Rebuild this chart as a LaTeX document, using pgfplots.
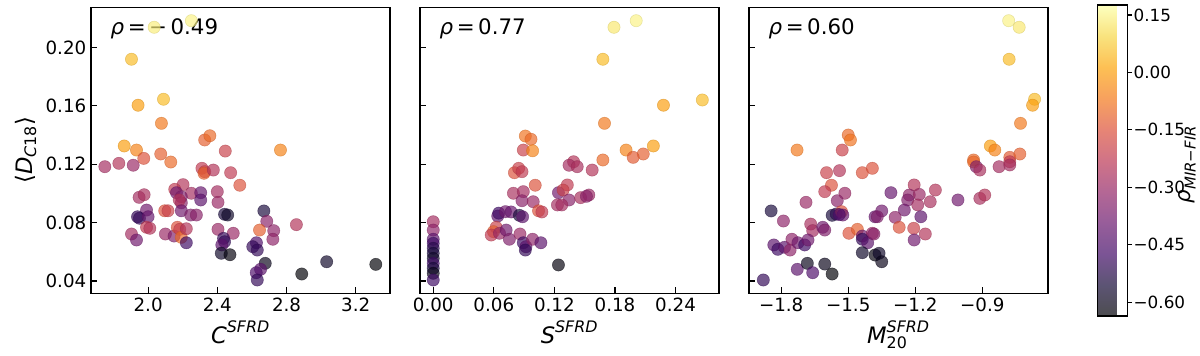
\documentclass[border=0pt]{standalone}
\usepackage{amsmath}
\usepackage{fontspec}
\setmainfont{DejaVu Sans}
\usepackage{pgfplots}
\pgfplotsset{compat=1.18}

\pgfplotsset{
  colormap={inferno}{rgb255=(0,0,4) rgb255=(22,11,57) rgb255=(66,10,104) rgb255=(106,23,110)
    rgb255=(147,38,103) rgb255=(188,55,84) rgb255=(221,81,58) rgb255=(243,120,25)
    rgb255=(252,165,10) rgb255=(246,215,70) rgb255=(252,255,164)},
  colormap={infernofade}{rgb255=(77,77,80) rgb255=(92,84,116) rgb255=(123,84,149) rgb255=(151,93,154)
    rgb255=(180,103,149) rgb255=(208,115,135) rgb255=(231,133,117) rgb255=(247,161,94)
    rgb255=(253,192,84) rgb255=(249,227,126) rgb255=(253,255,191)},
  panel/.style={
    scale only axis, width=224.25pt, height=214.5pt, anchor=south west,
    colormap name=inferno, point meta min=-0.636, point meta max=0.176,
    ymin=0.0316, ymax=0.2275,
    ytick={0.04,0.08,0.12,0.16,0.20},
    tick align=inside, xtick pos=bottom, ytick pos=left,
    major tick length=4.5pt,
    axis line style={line width=1.1pt},
    major tick style={line width=0.9pt, black},
    tick label style={font=\fontsize{13.7}{16}\selectfont},
    label style={font=\fontsize{17}{20}\selectfont},
    clip=false,
  },
  dots/.style={scatter, only marks, scatter src=explicit, mark=*, mark size=4.6pt,
    scatter/use mapped color={draw=mapped color!85!black, fill=mapped color},
    mark options={fill opacity=0.68, draw opacity=0.55, line width=0.4pt}},
}

\pgfplotstableread{
x y c
2.035 0.2138 0.14
2.250 0.2183 0.15
1.904 0.1919 0.05
1.942 0.1604 0.00
2.089 0.1645 0.05
2.077 0.1480 -0.07
1.862 0.1325 0.00
1.933 0.1297 -0.05
2.327 0.1366 -0.12
2.357 0.1395 -0.10
2.446 0.1290 -0.20
2.765 0.1297 -0.05
1.975 0.1240 -0.15
2.073 0.1270 -0.12
2.131 0.1215 -0.10
1.750 0.1183 -0.28
1.831 0.1206 -0.25
1.914 0.1193 -0.30
2.311 0.1172 -0.22
2.327 0.1149 -0.20
2.323 0.1138 -0.12
2.377 0.1160 -0.25
2.477 0.1142 -0.22
2.530 0.1056 -0.15
2.202 0.1060 -0.25
2.154 0.1028 -0.22
2.164 0.1005 -0.38
2.250 0.1001 -0.28
2.304 0.1005 -0.40
2.304 0.0955 -0.42
2.192 0.0977 -0.35
2.192 0.0936 -0.33
2.180 0.0955 -0.25
2.400 0.1012 -0.28
2.404 0.0939 -0.30
1.948 0.0973 -0.28
1.977 0.0991 -0.27
1.991 0.0886 -0.38
1.939 0.0840 -0.50
1.950 0.0830 -0.50
2.000 0.0840 -0.40
2.096 0.0881 -0.15
2.115 0.0881 -0.20
2.192 0.0881 -0.38
2.246 0.0852 -0.35
2.279 0.0852 -0.33
2.442 0.0857 -0.55
2.460 0.0852 -0.58
1.991 0.0768 -0.22
2.010 0.0761 -0.25
1.904 0.0722 -0.28
1.933 0.0681 -0.38
2.100 0.0722 -0.30
2.150 0.0708 -0.35
2.169 0.0768 -0.15
2.183 0.0754 -0.20
2.192 0.0699 -0.10
2.221 0.0758 -0.25
2.221 0.0662 -0.48
2.404 0.0754 -0.30
2.492 0.0727 -0.30
2.436 0.0692 -0.50
2.442 0.0669 -0.50
2.426 0.0647 -0.42
2.423 0.0590 -0.58
2.473 0.0580 -0.62
2.669 0.0880 -0.55
2.686 0.0809 -0.33
2.726 0.0745 -0.32
2.721 0.0686 -0.32
2.644 0.0749 -0.12
2.857 0.0786 -0.25
2.626 0.0662 -0.45
2.605 0.0635 -0.50
2.631 0.0612 -0.50
2.677 0.0521 -0.60
2.650 0.0480 -0.42
2.625 0.0457 -0.45
2.631 0.0407 -0.50
2.888 0.0448 -0.63
3.032 0.0532 -0.58
3.316 0.0514 -0.63
}\tabC

\pgfplotstableread{
x y c
0.179 0.2138 0.13
0.201 0.2183 0.15
0.168 0.1919 0.05
0.228 0.1604 0.00
0.2665 0.1640 0.05
0.1696 0.1480 -0.07
0.218 0.1325 0.00
0.191 0.1297 -0.05
0.208 0.1270 -0.12
0.198 0.1247 -0.13
0.168 0.1229 -0.10
0.139 0.1217 -0.25
0.0912 0.1393 -0.08
0.0968 0.1371 -0.10
0.0892 0.1297 -0.20
0.0984 0.1292 -0.05
0.0804 0.1142 -0.15
0.0846 0.1172 -0.20
0.0879 0.1149 -0.22
0.101 0.1056 -0.15
0.0794 0.1001 -0.27
0.0892 0.1012 -0.28
0.0879 0.0950 -0.33
0.099 0.0943 -0.30
0.1043 0.0881 -0.15
0.1076 0.0873 -0.22
0.124 0.1005 -0.38
0.123 0.0921 -0.28
0.0639 0.0845 -0.42
0.0649 0.0865 -0.48
0.0715 0.0875 -0.38
0.0771 0.0873 -0.40
0.0853 0.0850 -0.55
0.0885 0.0840 -0.42
0.0623 0.0768 -0.20
0.0597 0.0738 -0.12
0.0574 0.0715 -0.22
0.0656 0.0727 -0.30
0.0722 0.0749 -0.38
0.0754 0.0686 -0.35
0.0859 0.0722 -0.30
0.0892 0.0662 -0.48
0.0918 0.0635 -0.42
0.0912 0.0612 -0.50
0.0984 0.0686 -0.32
0.1066 0.0662 -0.42
0.124 0.0510 -0.62
0 0.0806 -0.28
0 0.0749 -0.32
0 0.0686 -0.42
0 0.0658 -0.48
0 0.0624 -0.52
0 0.0590 -0.55
0 0.0555 -0.58
0 0.0521 -0.48
0 0.0487 -0.55
0 0.0453 -0.60
0 0.0407 -0.48
0.1574 0.1160 -0.25
0.1345 0.1193 -0.28
0.1426 0.1183 -0.27
0.1328 0.1058 -0.22
0.1286 0.1023 -0.20
0.1345 0.0955 -0.33
0.1273 0.0921 -0.28
0.146 0.0971 -0.27
0.1541 0.0989 -0.30
0.1517 0.0980 -0.33
}\tabS

\pgfplotstableread{
x y c
-1.729 0.1297 -0.07
-1.500 0.1400 -0.10
-1.490 0.1366 -0.08
-1.527 0.1297 -0.20
-0.782 0.2183 0.15
-0.735 0.2138 0.13
-0.780 0.1919 0.05
-0.729 0.1480 -0.07
-0.864 0.1325 0.00
-0.844 0.1297 -0.05
-0.939 0.1229 -0.10
-0.777 0.1247 -0.13
-0.732 0.1270 -0.12
-0.666 0.1645 0.05
-0.675 0.1604 0.00
-1.597 0.1142 -0.20
-1.539 0.1156 -0.25
-1.437 0.1142 -0.15
-1.392 0.1172 -0.15
-1.575 0.1056 -0.15
-1.605 0.1012 -0.22
-1.515 0.1001 -0.30
-1.549 0.0950 -0.33
-1.689 0.0939 -0.30
-1.845 0.0880 -0.55
-1.790 0.0811 -0.32
-1.572 0.0850 -0.55
-1.554 0.0859 -0.52
-1.530 0.0875 -0.15
-1.524 0.0852 -0.40
-1.540 0.0855 -0.45
-1.668 0.0790 -0.27
-1.659 0.0745 -0.28
-1.614 0.0768 -0.38
-1.605 0.0749 -0.35
-1.833 0.0647 -0.42
-1.815 0.0617 -0.48
-1.785 0.0631 -0.42
-1.760 0.0612 -0.32
-1.752 0.0686 -0.32
-1.725 0.0662 -0.38
-1.695 0.0647 -0.48
-1.680 0.0681 -0.38
-1.880 0.0407 -0.50
-1.728 0.0480 -0.42
-1.683 0.0521 -0.60
-1.659 0.0457 -0.45
-1.605 0.0516 -0.60
-1.572 0.0448 -0.63
-1.497 0.0727 -0.15
-1.459 0.0754 -0.12
-1.437 0.0708 -0.38
-1.392 0.0727 -0.30
-1.437 0.0686 -0.50
-1.413 0.0662 -0.42
-1.437 0.0594 -0.58
-1.380 0.0578 -0.62
-1.380 0.0840 -0.40
-0.939 0.1215 -0.10
-0.927 0.1183 -0.35
-0.911 0.1160 -0.27
-0.825 0.1183 -0.28
-0.777 0.1217 -0.22
-0.777 0.1195 -0.28
-1.205 0.1058 -0.25
-1.110 0.1023 -0.25
-1.309 0.1005 -0.40
-1.227 0.0989 -0.32
-1.182 0.0993 -0.30
-1.234 0.0955 -0.35
-1.133 0.0943 -0.27
-1.189 0.0921 -0.28
-1.249 0.0886 -0.38
-1.009 0.0955 -0.38
-0.911 0.0966 -0.27
-0.889 0.0989 -0.25
-1.350 0.0880 -0.38
-1.370 0.0840 -0.35
-1.290 0.0836 -0.32
-1.175 0.0840 -0.42
-1.272 0.0768 -0.15
-1.207 0.0761 -0.20
-1.155 0.0722 -0.25
-1.205 0.0681 -0.38
-1.385 0.0722 -0.33
-1.362 0.0590 -0.58
-1.350 0.0532 -0.60
}\tabM

\begin{document}
\begin{tikzpicture}
\useasboundingbox (0,0) rectangle (900pt,266.25pt);

% panel 1: concentration
\begin{axis}[panel, at={(68.25pt,46.3pt)},
  xmin=1.670, xmax=3.398, xtick={2.0,2.4,2.8,3.2},
  xticklabels={2.0,2.4,2.8,3.2},
  yticklabels={0.04,0.08,0.12,0.16,0.20},
  xlabel={\(\textit{C}^{\textit{SFRD}}\)},
  ylabel={⟨\(\textit{D}_{\textit{C}\text{18}}\)⟩}]
\addplot[dots] table[x=x,y=y,meta=c] {\tabC};
\node[anchor=west, font=\fontsize{16}{19}\selectfont] at (rel axis cs:0.05,0.925) {\textit{ρ}\,=\,−\,0.49};
\end{axis}

% panel 2: smoothness
\begin{axis}[panel, at={(315pt,46.3pt)},
  xmin=-0.0131, xmax=0.283, xtick={0,0.06,0.12,0.18,0.24},
  xticklabels={0.00,0.06,0.12,0.18,0.24},
  yticklabels={},
  xlabel={\(\textit{S}^{\textit{SFRD}}\)}]
\addplot[dots] table[x=x,y=y,meta=c] {\tabS};
\node[anchor=west, font=\fontsize{16}{19}\selectfont] at (rel axis cs:0.05,0.925) {\textit{ρ}\,=\,0.77};
\end{axis}

% panel 3: M20
\begin{axis}[panel, at={(561.75pt,46.3pt)},
  xmin=-1.944, xmax=-0.606, xtick={-1.8,-1.5,-1.2,-0.9},
  xticklabels={−1.8,−1.5,−1.2,−0.9},
  yticklabels={},
  xlabel={\(\textit{M}^{\textit{SFRD}}_{\text{20}}\)},
  colorbar,
  colorbar style={colormap name=infernofade, scale only axis,
    width=22.5pt, height=233.25pt,
    at={(parent axis.north east)}, anchor=north west, xshift=28.5pt, yshift=1.7pt,
    ytick={-0.6,-0.45,-0.3,-0.15,0,0.15},
    yticklabels={−0.60,−0.45,−0.30,−0.15,0.00,0.15},
    yticklabel pos=right, ytick pos=right, tick align=outside,
    major tick length=3.5pt,
    axis line style={line width=1.1pt},
    tick label style={font=\fontsize{12.6}{15}\selectfont, inner sep=1pt}}]
\addplot[dots] table[x=x,y=y,meta=c] {\tabM};
\node[anchor=west, font=\fontsize{16}{19}\selectfont] at (rel axis cs:0.05,0.925) {\textit{ρ}\,=\,0.60};
\end{axis}

\node[rotate=90, anchor=south, inner sep=0pt, font=\fontsize{16}{19}\selectfont] at (897pt,143pt)
  {\(\textit{ρ}_{\textit{MIR−FIR}}\)};
\end{tikzpicture}
\end{document}
